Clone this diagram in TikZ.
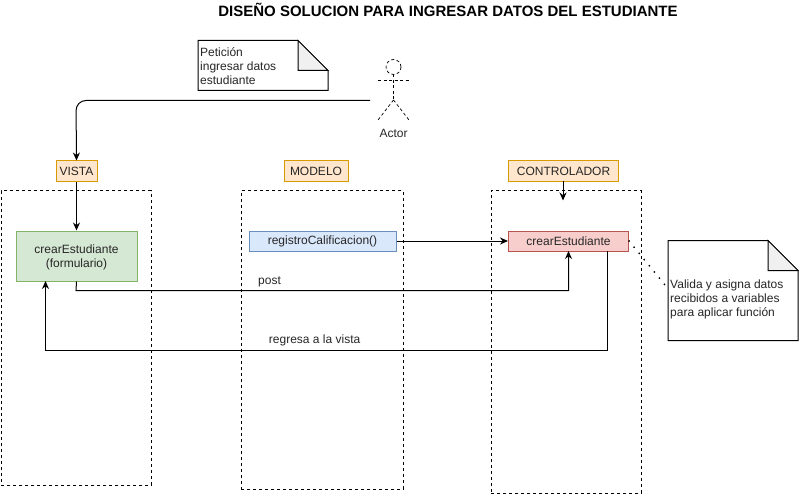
\documentclass[tikz,border=0pt]{standalone}
\usepackage{fontspec}
\setmainfont{Liberation Sans}
\usetikzlibrary{arrows.meta,calc}
\definecolor{orF}{HTML}{FFE6CC}\definecolor{orD}{HTML}{D79B00}
\definecolor{grF}{HTML}{D5E8D4}\definecolor{grD}{HTML}{82B366}
\definecolor{blF}{HTML}{DAE8FC}\definecolor{blD}{HTML}{6C8EBF}
\definecolor{reF}{HTML}{F8CECC}\definecolor{reD}{HTML}{B85450}
\definecolor{foldc}{HTML}{F0F0F0}
\tikzset{
 txt/.style={font=\fontsize{12}{14}\selectfont,text=black!85},
 frame/.style={draw=black,line width=0.8pt,dash pattern=on 3pt off 3pt,inner sep=0pt,anchor=north west},
 lane/.style={draw=orD,fill=orF,line width=1pt,txt,inner sep=0pt,minimum height=20.5pt,anchor=north west},
 box/.style={line width=1pt,txt,inner sep=0pt,align=center,anchor=north west},
 conn/.style={draw=black,line width=1pt,-{Stealth[length=8pt,width=7pt]}},
 plainnote/.style={draw=black,line width=1pt,fill=white},
 notetxt/.style={txt,align=left,anchor=north west,inner sep=0pt},
 actorline/.style={draw=black,line width=0.7pt,dash pattern=on 3pt off 2.5pt},
}
\begin{document}
\begin{tikzpicture}[x=1pt,y=-1pt]
\useasboundingbox (0,0) rectangle (799,494);
\node[font=\fontsize{15}{17}\selectfont\bfseries,anchor=center,inner sep=0pt] (title) at (448,10) {DISEÑO SOLUCION PARA INGRESAR DATOS DEL ESTUDIANTE};

% lanes frames
\node[frame,minimum width=150pt,minimum height=294pt] (fv) at (1,190.5) {};
\node[frame,minimum width=162pt,minimum height=298pt] (fm) at (241,190.5) {};
\node[frame,minimum width=150pt,minimum height=302pt] (fc) at (491,190.5) {};

% labels
\node[lane,minimum width=41pt] (vista) at (55.5,160.5) {VISTA};
\node[lane,minimum width=64pt] (modelo) at (283.5,160.5) {MODELO};
\node[lane,minimum width=110pt] (ctrl) at (508,160.5) {CONTROLADOR};

% boxes
\node[box,draw=grD,fill=grF,minimum width=121pt,minimum height=50pt] (green) at (15.5,230.5) {\rule{0pt}{12pt}crearEstudiante\\[0pt](formulario)};
\node[box,draw=blD,fill=blF,minimum width=147pt,minimum height=20pt] (blue) at (248.5,230.5) {registroCalificacion()};
\node[box,draw=reD,fill=reF,minimum width=120pt,minimum height=20pt] (red) at (508,230.5) {crearEstudiante};

% notes
\coordinate (n1) at (198,40.5);
\draw[plainnote] (n1) -- ++(100,0) -- ++(30,30) -- ++(0,20) -- ++(-130,0) -- cycle;
\draw[line width=1pt,fill=foldc] ($(n1)+(100,0)$) -- ++(0,30) -- ++(30,0) -- cycle;
\node[notetxt] (n1t) at (200,47) {Petición\\ingresar datos\\estudiante};

\coordinate (n2) at (668,240.5);
\draw[plainnote] (n2) -- ++(100,0) -- ++(30,30) -- ++(0,70) -- ++(-130,0) -- cycle;
\draw[line width=1pt,fill=foldc] ($(n2)+(100,0)$) -- ++(0,30) -- ++(30,0) -- cycle;
\node[notetxt] (n2t) at (670,280) {Valida y asigna datos\\recibidos a variables\\para aplicar función};

% actor
\coordinate (head) at (393.5,67);
\draw[actorline] (head) circle (7.5pt);
\draw[actorline] (393.5,74.5) -- (393.5,100);
\draw[actorline] (378,80.5) -- (409,80.5);
\draw[actorline] (393.5,100) -- (378,120);
\draw[actorline] (393.5,100) -- (409,120);
\node[txt,inner sep=0pt] (actor) at (393.5,133) {Actor};
\coordinate (actorL) at (370,100.5);

% connectors
\draw[conn,rounded corners=10pt] (actorL) -- (76,100.5) -- (vista.north);
\draw[conn] (vista.south) -- (green.north);
\draw[conn] (blue.east) -- (red.west);
\draw[conn] (563,181) -- (563,200.5);
\draw[conn] (green.south) -- (76,290.5) -- (568.5,290.5) -- (568.5,251);
\draw[conn] (607.5,251) -- (607.5,350.5) -- (45.5,350.5) -- (45.5,281);
\draw[line width=2pt,line cap=round,dash pattern=on 0pt off 8pt] (red.east) -- (665,285);

\node[txt,inner sep=0pt] (lpost) at (269.5,281.5) {post};
\node[txt,inner sep=0pt] (lreg) at (314.6,340.5) {regresa a la vista};
\end{tikzpicture}
\end{document}
